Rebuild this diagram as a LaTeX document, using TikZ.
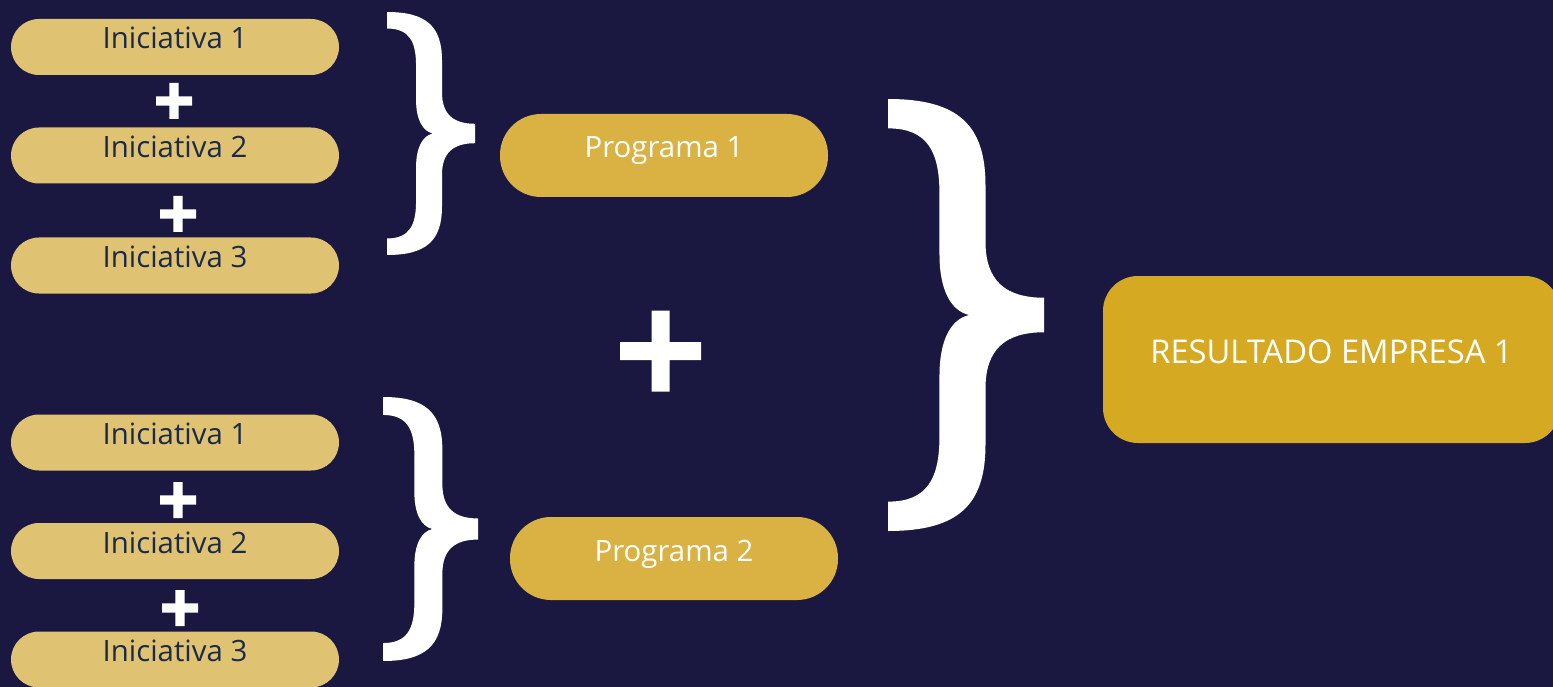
\documentclass[tikz,border=0pt]{standalone}
\usepackage{fontspec}
\setmainfont{Open Sans}
\definecolor{fondo}{HTML}{1A1840}
\definecolor{oroclaro}{HTML}{DFC373}
\definecolor{oromedio}{HTML}{D9B243}
\definecolor{orofuerte}{HTML}{D6A923}
\definecolor{tinta}{HTML}{1B2A48}

\tikzset{
    llave/.pic={
        \fill[white] (0,0)
            .. controls (0.45,0) and (0.625,0.06) .. (0.625,0.2)
            -- (0.625,0.33)
            .. controls (0.625,0.42) and (0.75,0.46) .. (1,0.46)
            -- (1,0.54)
            .. controls (0.75,0.54) and (0.625,0.58) .. (0.625,0.67)
            -- (0.625,0.8)
            .. controls (0.625,0.94) and (0.45,1) .. (0,1)
            -- (0,0.932)
            .. controls (0.25,0.932) and (0.33,0.88) .. (0.33,0.78)
            -- (0.33,0.64)
            .. controls (0.33,0.56) and (0.4,0.51) .. (0.52,0.5)
            .. controls (0.4,0.49) and (0.33,0.44) .. (0.33,0.36)
            -- (0.33,0.22)
            .. controls (0.33,0.12) and (0.25,0.068) .. (0,0.068)
            -- cycle;
    },
    iniciativa/.style={fill=oroclaro, text=tinta, rounded corners=28pt,
        minimum width=328pt, inner xsep=0pt, inner ysep=0pt,
        text height=30pt, text depth=26pt, font=\fontsize{29.4}{35}\selectfont},
    programa/.style={fill=oromedio, text=white, rounded corners=41pt,
        minimum width=328pt, inner xsep=0pt, inner ysep=0pt,
        text height=44pt, text depth=39pt, font=\fontsize{29.4}{35}\selectfont},
    resultado/.style={fill=orofuerte, text=white, rounded corners=35pt,
        minimum width=457pt, inner xsep=0pt, inner ysep=0pt,
        text height=87pt, text depth=80pt, font=\fontsize{32.7}{39}\selectfont}
}
\newcommand{\signomas}[4]{\fill[white] (#1-#3,#2-#4) rectangle (#1+#3,#2+#4)
    (#1-#4,#2-#3) rectangle (#1+#4,#2+#3);}

\begin{document}
\begin{tikzpicture}[x=1pt,y=-1pt]
        \fill[fondo] (0,0) rectangle (1553,687);
        \clip (0,0) rectangle (1553,687);

        \node[iniciativa] (ini11) at (175,47) {Iniciativa 1};
        \node[iniciativa] (ini12) at (175,155.5) {Iniciativa 2};
        \node[iniciativa] (ini13) at (175,265.5) {Iniciativa 3};
        \node[iniciativa] (ini21) at (175,442.5) {Iniciativa 1};
        \node[iniciativa] (ini22) at (175,551) {Iniciativa 2};
        \node[iniciativa] (ini23) at (175,659.5) {Iniciativa 3};

        \signomas{174}{101}{18}{4.6}
        \signomas{178}{214}{18}{4.6}
        \signomas{178}{500}{18}{4.6}
        \signomas{180}{608}{18}{4.6}
        \signomas{660.5}{351}{40.5}{9}

        \path (387,12) pic[xscale=88,yscale=243] {llave};
        \path (383,397) pic[xscale=95,yscale=264] {llave};
        \path (888,99) pic[xscale=156,yscale=432] {llave};

        \node[programa] (prog1) at (664,155.5) {Programa 1};
        \node[programa] (prog2) at (674,558.5) {Programa 2};

        \node[resultado] (empresa) at (1331.5,359.5) {RESULTADO EMPRESA 1};
\end{tikzpicture}
\end{document}
